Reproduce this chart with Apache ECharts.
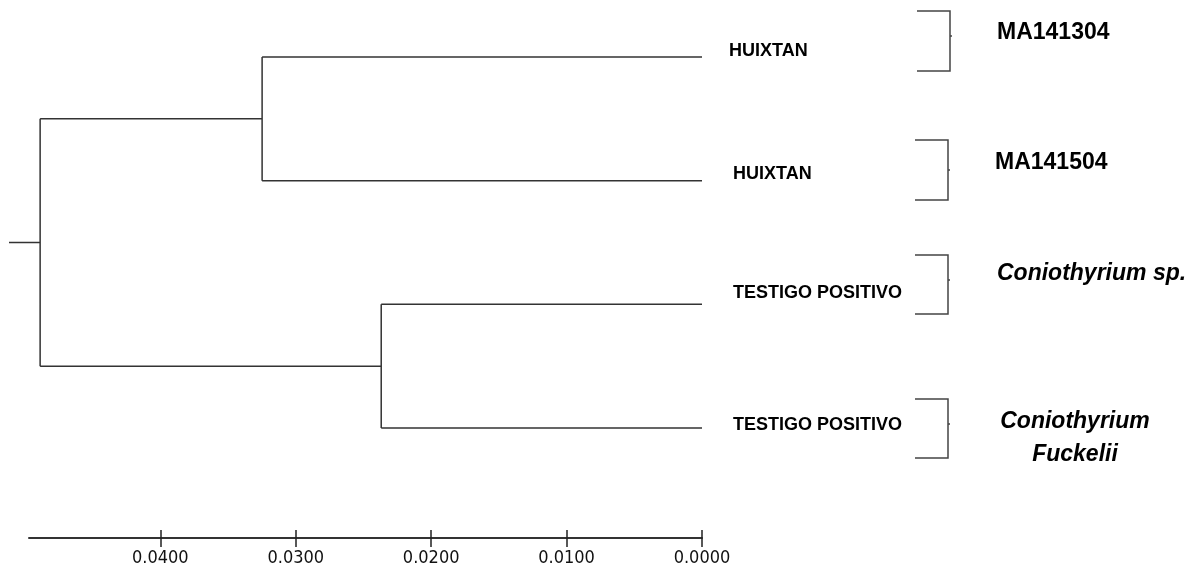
<!DOCTYPE html>
<html>
<head>
<meta charset="utf-8">
<script src="https://cdn.jsdelivr.net/npm/echarts@6/dist/echarts.min.js"></script>
<style>
html,body{margin:0;padding:0;background:#fff;}
#chart{width:1202px;height:573px;}
</style>
</head>
<body>
<div id="chart"></div>
<script>
// ---- data ----
const leafNames = ['HUIXTAN', 'HUIXTAN', 'TESTIGO POSITIVO', 'TESTIGO POSITIVO'];
const leafRows = [1, 2, 3, 4];
const groupLabels = ['MA141304', 'MA141504', 'Coniothyrium sp.', 'Coniothyrium\nFuckelii'];
// node heights (distance)
const rootHeight = 0.0489;
const upperNodeHeight = 0.0325;   // HUIXTAN pair
const lowerNodeHeight = 0.0237;   // TESTIGO pair
const rootStubStart = 0.0512;
const axisStart = 0.0497;
const tickValues = [0, 0.01, 0.02, 0.03, 0.04];

// ---- build tree segments ----
const upperY = (leafRows[0] + leafRows[1]) / 2;
const lowerY = (leafRows[2] + leafRows[3]) / 2;
const rootY = (upperY + lowerY) / 2;
const segs = [
  [[rootStubStart, rootY], [rootHeight, rootY]],
  [[rootHeight, upperY], [rootHeight, lowerY]],
  [[rootHeight, upperY], [upperNodeHeight, upperY]],
  [[rootHeight, lowerY], [lowerNodeHeight, lowerY]],
  [[upperNodeHeight, leafRows[0]], [upperNodeHeight, leafRows[1]]],
  [[upperNodeHeight, leafRows[0]], [0, leafRows[0]]],
  [[upperNodeHeight, leafRows[1]], [0, leafRows[1]]],
  [[lowerNodeHeight, leafRows[2]], [lowerNodeHeight, leafRows[3]]],
  [[lowerNodeHeight, leafRows[2]], [0, leafRows[2]]],
  [[lowerNodeHeight, leafRows[3]], [0, leafRows[3]]]
];
const lineData = [];
segs.forEach(s => { lineData.push(s[0], s[1], [null, null]); });

const labelOffsets = [[27, -6], [31, -7], [31, -11], [31, -3]];
const leafLabelFont = {
  color: '#000', fontWeight: 'bold', fontSize: 18,
  fontFamily: '"Liberation Sans", Arial, sans-serif'
};
const leafLabelData = leafRows.map((r, i) => ({
  value: [0, r],
  label: Object.assign({
    show: true, formatter: leafNames[i], position: 'right', distance: 0,
    offset: labelOffsets[i]
  }, leafLabelFont)
}));

const lineStyleTree = { color: '#333', width: 1.5 };
const brackets = [
  { x1: 917, x2: 950, y1: 11, y2: 71, tick: 36 },
  { x1: 915, x2: 948, y1: 140, y2: 200, tick: 170 },
  { x1: 915, x2: 948, y1: 255, y2: 314, tick: 280 },
  { x1: 915, x2: 948, y1: 399, y2: 458, tick: 424 }
];
const graphics = [];
brackets.forEach(b => {
  graphics.push({
    type: 'polyline', shape: { points: [[b.x1, b.y1], [b.x2, b.y1], [b.x2, b.y2], [b.x1, b.y2]] },
    style: { stroke: '#444', lineWidth: 1.5, fill: null }
  });
  graphics.push({
    type: 'line', shape: { x1: b.x2, y1: b.tick, x2: b.x2 + 2, y2: b.tick },
    style: { stroke: '#444', lineWidth: 1.5 }
  });
});
const boldFont = 'bold 23px "Liberation Sans", Arial, sans-serif';
const italicFont = 'italic bold 23px "Liberation Sans", Arial, sans-serif';
graphics.push({ type: 'text', x: 997, y: 33, style: { text: groupLabels[0], font: boldFont, fill: '#000', textVerticalAlign: 'middle' } });
graphics.push({ type: 'text', x: 995, y: 163, style: { text: groupLabels[1], font: boldFont, fill: '#000', textVerticalAlign: 'middle' } });
graphics.push({ type: 'text', x: 997, y: 274, style: { text: groupLabels[2], font: italicFont, fill: '#000', textVerticalAlign: 'middle' } });
graphics.push({ type: 'text', x: 1075, y: 438, style: { text: groupLabels[3], font: italicFont, fill: '#000', textAlign: 'center', textVerticalAlign: 'middle', lineHeight: 33 } });

const chart = echarts.init(document.getElementById('chart'), null, { renderer: 'canvas' });
chart.setOption({
  animation: false,
  backgroundColor: '#fff',
  grid: [
    { left: 9, right: 500, top: 57, height: 371 },
    { left: 29, right: 500, bottom: 35, height: 1 }
  ],
  xAxis: [
    { gridIndex: 0, type: 'value', inverse: true, min: 0, max: rootStubStart, show: false },
    {
      gridIndex: 1, type: 'value', inverse: true, min: 0, max: axisStart, interval: 0.01, position: 'bottom',
      splitLine: { show: false },
      axisLine: { show: true, lineStyle: { color: '#333', width: 2 } },
      axisTick: { show: true, customValues: tickValues, length: 9, lineStyle: { color: '#222', width: 1.5 } },
      axisLabel: {
        show: true, customValues: tickValues, margin: 11,
        formatter: v => v.toFixed(4),
        fontFamily: '"Liberation Sans Narrow", "DejaVu Sans Condensed", sans-serif',
        fontSize: 18, color: '#111'
      }
    },
    {
      gridIndex: 1, type: 'value', inverse: true, min: 0, max: axisStart, interval: 0.01, position: 'bottom',
      splitLine: { show: false }, axisLine: { show: false },
      axisTick: { show: true, inside: true, customValues: tickValues, length: 8, lineStyle: { color: '#222', width: 1.5 } },
      axisLabel: { show: false }
    }
  ],
  yAxis: [
    { gridIndex: 0, type: 'value', inverse: true, min: leafRows[0], max: leafRows[leafRows.length - 1], show: false },
    { gridIndex: 1, type: 'value', show: false }
  ],
  series: [
    {
      type: 'line', xAxisIndex: 0, yAxisIndex: 0, data: lineData, connectNulls: false,
      showSymbol: false, symbol: 'none', lineStyle: lineStyleTree, clip: false, silent: true
    },
    {
      type: 'scatter', xAxisIndex: 0, yAxisIndex: 0, symbolSize: 0, data: leafLabelData, clip: false,
      itemStyle: { color: '#000', opacity: 1 },
      label: Object.assign({ show: true }, leafLabelFont),
      silent: true
    }
  ],
  graphic: graphics
});
</script>
</body>
</html>
